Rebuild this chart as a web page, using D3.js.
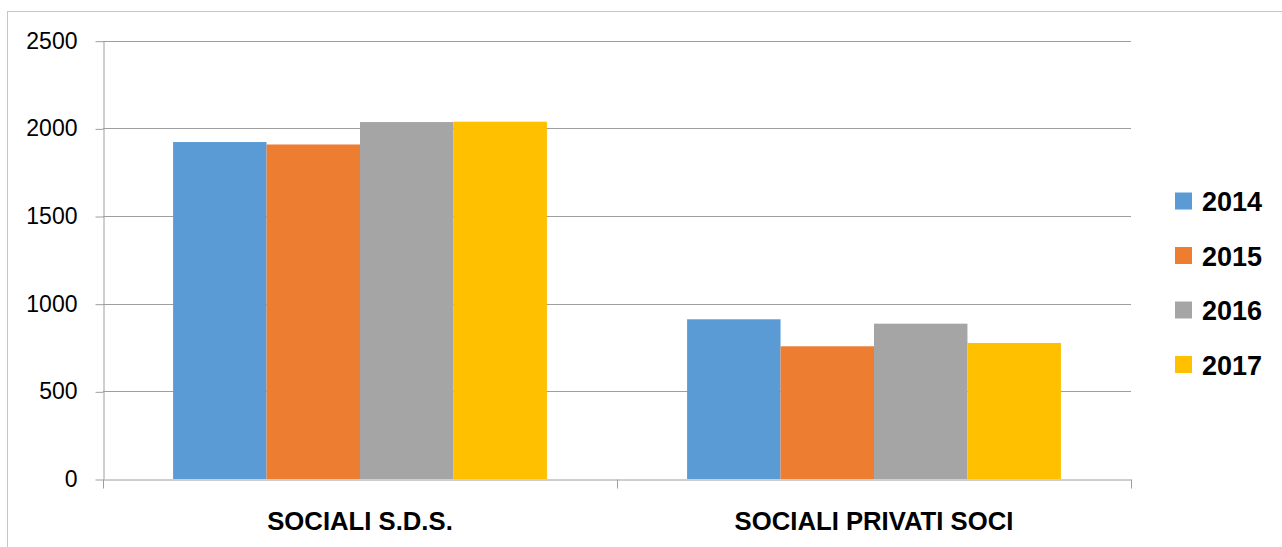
<!DOCTYPE html>
<html>
<head>
<meta charset="utf-8">
<script src="https://cdn.jsdelivr.net/npm/d3@7"></script>
<style>
  body { margin: 0; background: #fff; }
  svg { display: block; }
  .tick text { font-family: "Liberation Sans", Arial, sans-serif; }
</style>
</head>
<body>
<div id="svg-container"></div>
<script>
// data
const categories = ["SOCIALI S.D.S.", "SOCIALI PRIVATI SOCI"];
const years = ["2014", "2015", "2016", "2017"];
const values2014 = [1922, 911];
const values2015 = [1908, 757];
const values2016 = [2036, 886];
const values2017 = [2038, 776];
const yTicks = [0, 500, 1000, 1500, 2000, 2500];
const colors = ["#5B9BD5", "#ED7D31", "#A5A5A5", "#FFC000"];

const series = [values2014, values2015, values2016, values2017];

// svg
const width = 1282, height = 547;
const margin = { top: 40.7, right: 151, bottom: 68, left: 103 };

const svg = d3.select("#svg-container").append("svg")
  .attr("width", width)
  .attr("height", height);

// outer frame
svg.append("rect")
  .attr("x", 7.5).attr("y", 11.5)
  .attr("width", width).attr("height", height)
  .attr("fill", "none")
  .attr("stroke", "#c6c6c6")
  .attr("stroke-width", 1);

// scales
const x = d3.scaleBand()
  .domain(categories)
  .range([margin.left, width - margin.right])
  .padding(0);

const xInner = d3.scaleBand()
  .domain(years)
  .range([0, x.bandwidth()])
  .paddingInner(0)
  .paddingOuter(0.75);

const y = d3.scaleLinear()
  .domain([0, 2500])
  .range([height - margin.bottom, margin.top]);

// gridlines
svg.append("g")
  .selectAll("line")
  .data(yTicks.slice(1))
  .join("line")
  .attr("x1", margin.left)
  .attr("x2", width - margin.right)
  .attr("y1", d => Math.round(y(d)) + 0.5)
  .attr("y2", d => Math.round(y(d)) + 0.5)
  .attr("stroke", "#9e9e9e")
  .attr("stroke-width", 1.2);

// y axis
const yAxis = svg.append("g")
  .attr("transform", `translate(${margin.left + 0.5},0)`)
  .call(d3.axisLeft(y).tickValues(yTicks).tickFormat(d3.format("d"))
    .tickSize(8).tickPadding(18).tickSizeOuter(0));
yAxis.select(".domain").attr("stroke", "#9e9e9e");
yAxis.selectAll(".tick line").attr("stroke", "#9e9e9e")
  .attr("transform", "translate(0,0.5)");
yAxis.selectAll(".tick text")
  .attr("font-size", 23)
  .attr("fill", "#000");

// bars
const groups = svg.append("g")
  .selectAll("g")
  .data(categories)
  .join("g")
  .attr("transform", d => `translate(${x(d)},0)`);

groups.selectAll("rect")
  .data((d, i) => years.map((yr, j) => ({ yr, v: series[j][i], c: colors[j] })))
  .join("rect")
  .attr("x", d => xInner(d.yr))
  .attr("width", xInner.bandwidth())
  .attr("y", d => y(d.v))
  .attr("height", d => y(0) - y(d.v))
  .attr("fill", d => d.c);

// x axis
const x0 = Math.round(y(0)) + 0.5;
const xAxis = svg.append("g")
  .attr("transform", `translate(0,${x0})`)
  .call(d3.axisBottom(x).tickSize(0).tickPadding(0).tickSizeOuter(0));
xAxis.select(".domain").attr("stroke", "#9e9e9e");
xAxis.selectAll(".tick text")
  .attr("y", 50)
  .attr("dy", 0)
  .attr("font-size", 25.7)
  .attr("font-weight", "bold")
  .attr("fill", "#000");

// category boundary ticks
const bounds = categories.map(d => x(d)).concat([x.range()[1]]);
svg.append("g")
  .selectAll("line")
  .data(bounds)
  .join("line")
  .attr("x1", d => Math.round(d) + 0.5)
  .attr("x2", d => Math.round(d) + 0.5)
  .attr("y1", x0)
  .attr("y2", x0 + 9)
  .attr("stroke", "#9e9e9e");

// legend
const legend = svg.append("g")
  .selectAll("g")
  .data(years)
  .join("g")
  .attr("transform", (d, i) => `translate(1175,${201.5 + i * 54.5})`);

legend.append("rect")
  .attr("x", 0).attr("y", -9)
  .attr("width", 17).attr("height", 17)
  .attr("fill", (d, i) => colors[i]);

legend.append("text")
  .attr("x", 27)
  .attr("y", 0)
  .attr("dy", "0.36em")
  .attr("font-family", "'Liberation Sans', Arial, sans-serif")
  .attr("font-weight", "bold")
  .attr("font-size", 27)
  .attr("fill", "#000")
  .text(d => d);
</script>
</body>
</html>
